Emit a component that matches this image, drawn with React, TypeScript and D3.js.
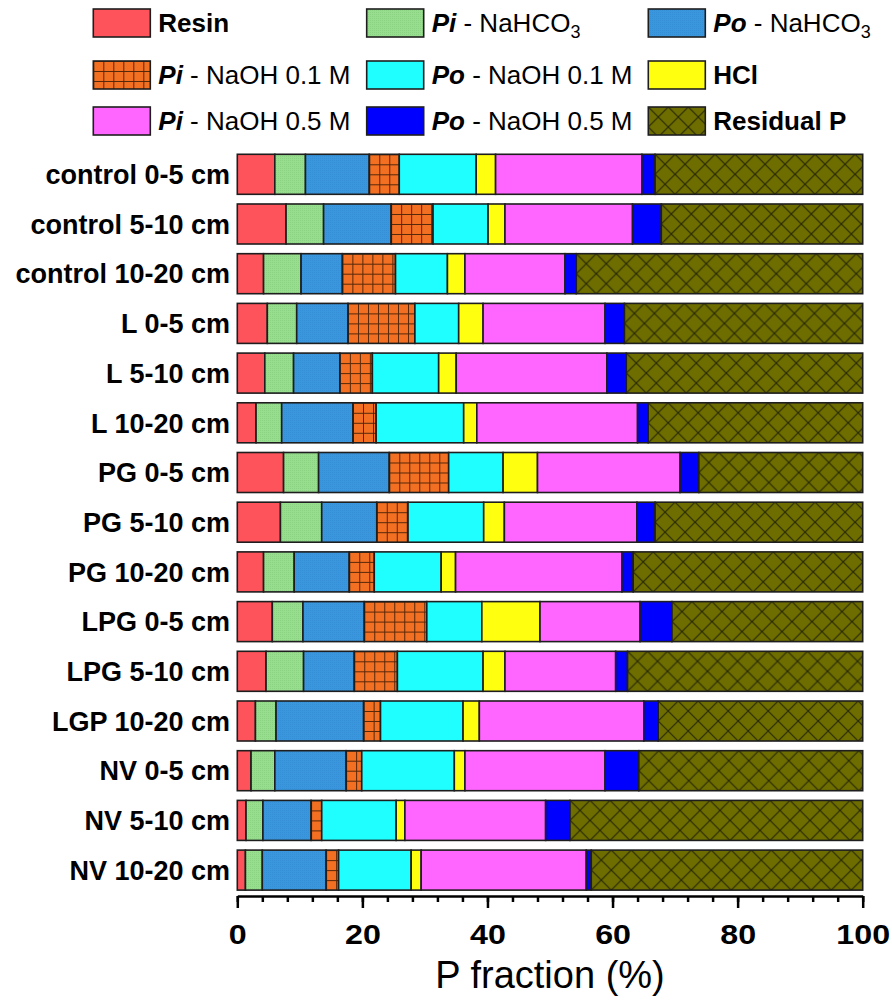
import { useEffect, useRef } from 'react';
import * as d3 from 'd3';

const categories = [
  'control 0-5 cm',
  'control 5-10 cm',
  'control 10-20 cm',
  'L 0-5 cm',
  'L 5-10 cm',
  'L 10-20 cm',
  'PG 0-5 cm',
  'PG 5-10 cm',
  'PG 10-20 cm',
  'LPG 0-5 cm',
  'LPG 5-10 cm',
  'LGP 10-20 cm',
  'NV 0-5 cm',
  'NV 5-10 cm',
  'NV 10-20 cm',
];

const resin = [6.0, 7.8, 4.2, 4.8, 4.4, 3.0, 7.4, 6.9, 4.2, 5.6, 4.6, 2.9, 2.2, 1.4, 1.3];
const piNaHCO3 = [4.9, 6.0, 6.0, 4.7, 4.6, 4.1, 5.6, 6.6, 4.9, 4.9, 6.0, 3.3, 3.8, 2.7, 2.7];
const poNaHCO3 = [10.2, 10.8, 6.6, 8.2, 7.4, 11.4, 11.3, 8.8, 8.8, 9.8, 8.1, 14.0, 11.4, 7.7, 10.2];
const piNaOH01 = [4.8, 6.7, 8.5, 10.7, 5.2, 3.7, 9.5, 5.0, 4.0, 10.0, 6.9, 2.7, 2.5, 1.7, 2.0];
const poNaOH01 = [12.3, 8.8, 8.3, 7.0, 10.6, 14.0, 8.7, 12.1, 10.7, 8.8, 13.7, 13.2, 14.8, 11.9, 11.6];
const hcl = [3.1, 2.7, 2.8, 3.9, 2.8, 2.1, 5.5, 3.3, 2.3, 9.3, 3.5, 2.6, 1.7, 1.4, 1.6];
const piNaOH05 = [23.4, 20.4, 16.0, 19.5, 24.1, 25.7, 22.8, 21.2, 26.6, 16.0, 17.7, 26.3, 22.4, 22.5, 26.4];
const poNaOH05 = [2.1, 4.6, 1.8, 3.1, 3.1, 1.7, 3.0, 2.9, 1.8, 5.1, 1.9, 2.3, 5.4, 3.9, 0.8];
const residual = [33.2, 32.2, 45.8, 38.1, 37.8, 34.3, 26.2, 33.2, 36.7, 30.5, 37.6, 32.7, 35.8, 46.8, 43.4];

const seriesKeys = ['resin', 'piNaHCO3', 'poNaHCO3', 'piNaOH01', 'poNaOH01', 'hcl', 'piNaOH05', 'poNaOH05', 'residual'];
const seriesValues: Record<string, number[]> = {
  resin, piNaHCO3, poNaHCO3, piNaOH01, poNaOH01, hcl, piNaOH05, poNaOH05, residual,
};

// legend text: bold/italic part, plain part, subscript
const legendLabels = [
  { bold: 'Resin', italic: '', rest: '', sub: '' },
  { bold: '', italic: 'Pi', rest: ' - NaHCO', sub: '3' },
  { bold: '', italic: 'Po', rest: ' - NaHCO', sub: '3' },
  { bold: '', italic: 'Pi', rest: ' - NaOH 0.1 M', sub: '' },
  { bold: '', italic: 'Po', rest: ' - NaOH 0.1 M', sub: '' },
  { bold: 'HCl', italic: '', rest: '', sub: '' },
  { bold: '', italic: 'Pi', rest: ' - NaOH 0.5 M', sub: '' },
  { bold: '', italic: 'Po', rest: ' - NaOH 0.5 M', sub: '' },
  { bold: 'Residual P', italic: '', rest: '', sub: '' },
];

const FONT = '"Liberation Sans", Arial, Helvetica, sans-serif';

const colors: Record<string, string> = {
  resin: '#FF535B',
  piNaHCO3: '#98DE8F',
  poNaHCO3: '#3A97DE',
  piNaOH01: '#F36F21',
  poNaOH01: '#20FFFF',
  hcl: '#FFFF10',
  piNaOH05: '#FF66FF',
  poNaOH05: '#0000FF',
  residual: '#6E6E00',
};

export default function App() {
  const svgRef = useRef<SVGSVGElement>(null);

  useEffect(() => {
    document.body.style.margin = '0';
    if (!svgRef.current) return;
    const svg = d3.select(svgRef.current);
    svg.selectAll('*').remove();

    const defs = svg.append('defs');

    // fine texture used on the NaHCO3 fills
    const tex = (id: string, base: string, dot: string) => {
      const p = defs.append('pattern').attr('id', id)
        .attr('patternUnits', 'userSpaceOnUse').attr('width', 2).attr('height', 2);
      p.append('rect').attr('width', 2).attr('height', 2).attr('fill', base);
      p.append('rect').attr('width', 1).attr('height', 1).attr('fill', dot);
    };
    tex('tex-green', colors.piNaHCO3, '#8CD283');
    tex('tex-blue', colors.poNaHCO3, '#348FD6');

    const gridPattern = (id: string, x0: number, y0: number) => {
      const p = defs.append('pattern').attr('id', id)
        .attr('patternUnits', 'userSpaceOnUse').attr('width', 10).attr('height', 10)
        .attr('patternTransform', `translate(${x0},${y0})`);
      p.append('rect').attr('width', 10).attr('height', 10).attr('fill', colors.piNaOH01);
      p.append('path').attr('d', 'M0,0.5H10M0.5,0V10')
        .attr('stroke', '#3b1a05').attr('stroke-width', 1).attr('opacity', 0.85);
    };
    const hatchPattern = (id: string, x0: number, y0: number) => {
      const p = defs.append('pattern').attr('id', id)
        .attr('patternUnits', 'userSpaceOnUse').attr('width', 20).attr('height', 20)
        .attr('patternTransform', `translate(${x0},${y0})`);
      p.append('rect').attr('width', 20).attr('height', 20).attr('fill', colors.residual);
      p.append('path').attr('d', 'M-2,-2L22,22M22,-2L-2,22')
        .attr('stroke', '#1c1c00').attr('stroke-width', 1.2).attr('opacity', 0.85);
    };

    const fillFor = (key: string, id: string, x0: number, y0: number) => {
      if (key === 'piNaHCO3') return 'url(#tex-green)';
      if (key === 'poNaHCO3') return 'url(#tex-blue)';
      if (key === 'piNaOH01') { gridPattern(id, x0, y0); return `url(#${id})`; }
      if (key === 'residual') { hatchPattern(id, x0, y0); return `url(#${id})`; }
      return colors[key];
    };

    const x = d3.scaleLinear().domain([0, 100]).range([237.3, 862.7]);
    const y = d3.scaleBand<string>().domain(categories)
      .range([144.6, 899.8]).paddingInner(0.195).paddingOuter(0.195);

    const rows = categories.map((c, i) => {
      const r: Record<string, any> = { cat: c };
      seriesKeys.forEach((k) => { r[k] = seriesValues[k][i]; });
      return r;
    });
    const stacked = d3.stack<Record<string, any>>().keys(seriesKeys)(rows);

    // bars
    const g = svg.append('g');
    stacked.forEach((layer) => {
      const key = layer.key;
      layer.forEach((d, i) => {
        const x0 = x(d[0]);
        const y0 = y(d.data.cat) || 0;
        g.append('rect')
          .attr('x', x0)
          .attr('y', y0)
          .attr('width', x(d[1]) - x0)
          .attr('height', y.bandwidth())
          .attr('fill', fillFor(key, `${key}-bar-${i}`, x0, y0))
          .attr('stroke', '#1e1e1e')
          .attr('stroke-width', 1.6);
      });
    });

    // category labels
    svg.append('g').selectAll('text')
      .data(categories)
      .enter()
      .append('text')
      .attr('x', 230)
      .attr('y', (d) => (y(d) || 0) + y.bandwidth() / 2)
      .attr('dy', '0.36em')
      .attr('text-anchor', 'end')
      .attr('font-family', FONT)
      .attr('font-weight', 'bold')
      .attr('font-size', 27)
      .attr('fill', '#000')
      .text((d) => d);

    // x axis
    const axisY = 896;
    const minor = svg.append('g').attr('transform', `translate(0,${axisY})`)
      .call(d3.axisBottom(x).tickValues(d3.range(0, 101, 4)).tickSize(6).tickFormat(() => ''));
    minor.select('.domain').remove();
    minor.selectAll('line').attr('stroke', '#000').attr('stroke-width', 2.5);

    const major = svg.append('g').attr('transform', `translate(0,${axisY})`)
      .call(d3.axisBottom(x).tickValues(d3.range(0, 101, 20)).tickSizeInner(12).tickSizeOuter(0).tickPadding(16));
    major.select('.domain').attr('stroke', '#000').attr('stroke-width', 2.5);
    major.selectAll('line').attr('stroke', '#000').attr('stroke-width', 2.5);
    major.selectAll('text')
      .attr('font-family', FONT)
      .attr('font-weight', 'bold')
      .attr('font-size', 28)
      .attr('transform', 'scale(1.15,1)')
      .attr('fill', '#000');

    svg.append('text')
      .attr('x', (x(0) + x(100)) / 2)
      .attr('y', 988)
      .attr('text-anchor', 'middle')
      .attr('font-family', FONT)
      .attr('font-size', 38)
      .attr('fill', '#000')
      .text('P fraction (%)');

    // legend
    const colX = [93.3, 366.7, 648.3];
    const rowY = [23, 75, 121];
    const legend = svg.append('g');
    seriesKeys.forEach((key, i) => {
      const lx = colX[i % 3];
      const ly = rowY[Math.floor(i / 3)];
      const sx = lx;
      const sy = ly - 14;
      legend.append('rect')
        .attr('x', sx).attr('y', sy).attr('width', 57).attr('height', 28)
        .attr('fill', fillFor(key, `${key}-legend`, sx, sy))
        .attr('stroke', '#1e1e1e').attr('stroke-width', 1.6);
      const lab = legendLabels[i];
      const t = legend.append('text')
        .attr('x', lx + 65).attr('y', ly + 9)
        .attr('font-family', FONT).attr('font-size', 26).attr('fill', '#000');
      if (lab.bold) t.append('tspan').attr('font-weight', 'bold').text(lab.bold);
      if (lab.italic) t.append('tspan').attr('font-weight', 'bold').attr('font-style', 'italic').text(lab.italic);
      if (lab.rest) t.append('tspan').text(lab.rest);
      if (lab.sub) t.append('tspan').attr('font-size', 18).attr('dy', 6).text(lab.sub);
    });
  }, []);

  return <svg ref={svgRef} width={892} height={1000} style={{ display: 'block', background: '#fff' }} />;
}
